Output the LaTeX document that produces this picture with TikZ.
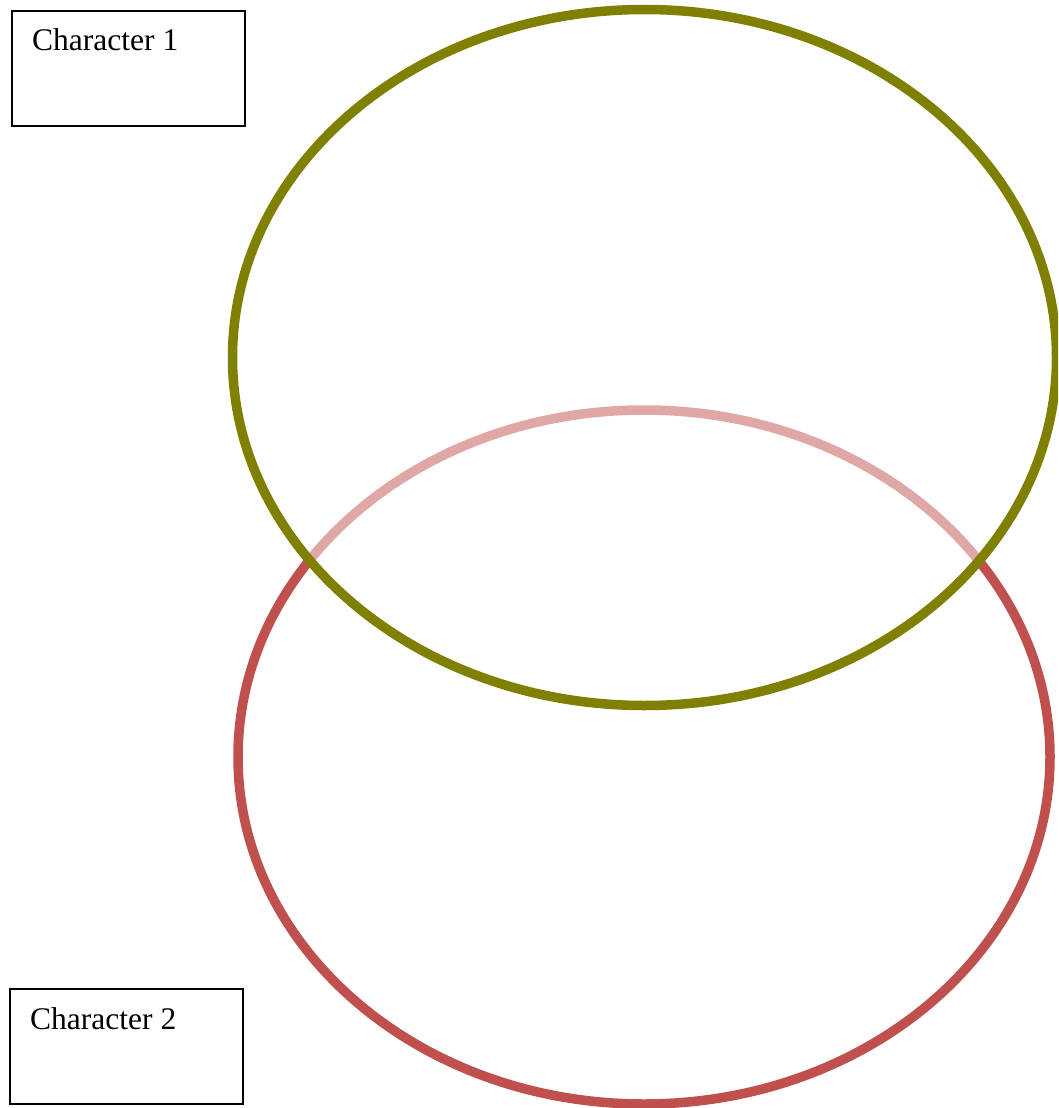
\documentclass[tikz,border=0pt]{standalone}
\usepackage{fontspec}
\setmainfont{Liberation Serif}
\definecolor{olivegreen}{HTML}{808000}
\definecolor{ringred}{HTML}{C0504D}
\tikzset{
  charbox/.style={draw=black, line width=2.2pt, minimum width=233pt, minimum height=115pt, anchor=north west, inner sep=0pt},
  chartext/.style={font=\fontsize{31.5}{36}\selectfont, anchor=base west, inner sep=0pt},
  ring/.style={line width=9.5pt}
}
\begin{document}
\begin{tikzpicture}[x=1pt,y=-1pt]
\useasboundingbox (0,0) rectangle (1058,1108);
\fill[white] (0,0) rectangle (1058,1108);
\begin{scope}
\clip (0,0) rectangle (1058,1108);
\draw[ring, draw=ringred] (644,757) ellipse [x radius=406, y radius=347];
\fill[white, fill opacity=0.5] (644.5,357.5) ellipse [x radius=412, y radius=348];
\draw[ring, draw=olivegreen] (644.5,357.5) ellipse [x radius=412, y radius=348];
\end{scope}
\node[charbox] (box1) at (11,10) {};
\node[chartext] (label1) at (32,51) {Character 1};
\node[charbox] (box2) at (9,988) {};
\node[chartext] (label2) at (30,1029) {Character 2};
\end{tikzpicture}
\end{document}
